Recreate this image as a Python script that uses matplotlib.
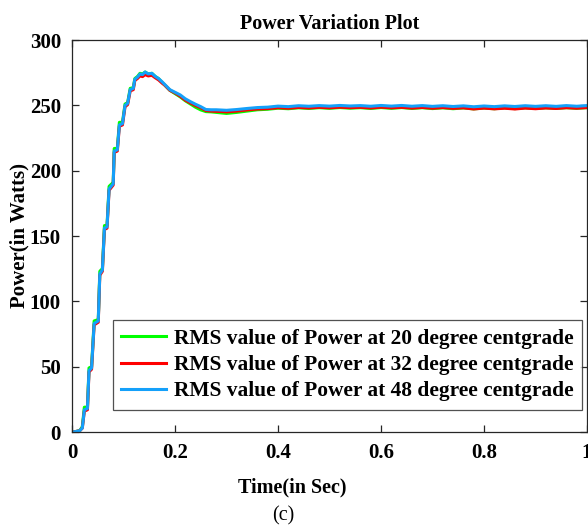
import numpy as np
import matplotlib
import matplotlib.pyplot as plt

matplotlib.use('Agg')

# time base (s) for the start-up transient
t_rise = [0.000, 0.003, 0.015, 0.020, 0.024, 0.030, 0.033, 0.038, 0.043, 0.051,
          0.054, 0.059, 0.063, 0.068, 0.072, 0.080, 0.082, 0.088, 0.092, 0.098,
          0.103, 0.108, 0.113, 0.119, 0.122, 0.127, 0.132, 0.137, 0.142, 0.148,
          0.155, 0.162, 0.168, 0.175, 0.180, 0.190, 0.200, 0.210, 0.220, 0.230,
          0.240, 0.250, 0.260, 0.270, 0.280, 0.290]

# time base (s) for the steady-state part
t_steady = [0.30, 0.32, 0.34, 0.36, 0.38, 0.40, 0.42, 0.44, 0.46, 0.48, 0.50, 0.52,
            0.54, 0.56, 0.58, 0.60, 0.62, 0.64, 0.66, 0.68, 0.70, 0.72, 0.74, 0.76,
            0.78, 0.80, 0.82, 0.84, 0.86, 0.88, 0.90, 0.92, 0.94, 0.96, 0.98, 1.00]

# RMS power (W) at 20 degrees
p20_rise = [0, 0, 1, 4, 19, 19, 49, 50, 85, 86, 123, 125, 158, 158, 188, 191, 217,
            217, 237, 237, 251, 252, 263, 263.5, 270.5, 272, 274.5, 274, 275.5, 274,
            274.5, 272, 270.5, 267.5, 265.5, 261.5, 259, 256.5, 253.5, 251, 248.5,
            246.5, 245.2, 245.0, 244.6, 244.2]
p20_steady = [243.8, 244.6, 245.6, 246.6, 247.0, 247.8, 247.4, 248.1, 247.6, 248.2,
              247.7, 248.3, 247.8, 248.2, 247.6, 248.3, 247.7, 248.3, 247.6, 248.2,
              247.5, 248.1, 247.4, 248.0, 247.3, 247.9, 247.4, 248.0, 247.5, 248.1,
              247.6, 248.1, 247.6, 248.2, 247.7, 248.2]

# RMS power (W) at 32 degrees
p32_rise = [0, 0, 1, 3, 16, 17, 46, 48, 82, 84, 120, 123, 155, 156, 185, 189, 214,
            215, 234, 235, 249, 250.5, 261, 262, 269, 270.5, 272.5, 272, 273.5, 272.5,
            273, 271, 269.5, 267, 265.5, 261.5, 259.5, 257, 254, 251.8, 249.8,
            248.2, 246.0, 245.6, 245.4, 245.3]
p32_steady = [245.0, 245.6, 246.5, 247.2, 247.5, 248.2, 247.8, 248.4, 248.0, 248.5,
              248.1, 248.6, 248.2, 248.5, 248.0, 248.6, 248.1, 248.5, 247.9, 248.4,
              247.8, 248.3, 247.7, 248.1, 247.2, 247.9, 247.3, 247.8, 247.2, 247.9,
              247.4, 248.0, 247.6, 248.2, 247.8, 248.3]

# RMS power (W) at 48 degrees
p48_rise = [0, 0, 1, 3, 17, 18, 47, 49, 83, 85, 121, 124, 156, 157, 186, 190, 215,
            216, 235, 236, 250, 251.5, 262, 263, 270, 271.5, 274, 273.5, 275.5, 274,
            274.5, 272, 270.5, 268, 266, 262, 260, 258, 255, 252.8, 250.8,
            249.0, 246.8, 246.6, 246.6, 246.4]
p48_steady = [246.2, 246.8, 247.6, 248.3, 248.6, 249.4, 249.0, 249.7, 249.3, 249.8,
              249.4, 249.9, 249.5, 249.8, 249.3, 249.9, 249.4, 249.9, 249.3, 249.8,
              249.2, 249.7, 249.1, 249.6, 248.9, 249.5, 249.0, 249.6, 249.1, 249.7,
              249.2, 249.7, 249.2, 249.8, 249.3, 249.8]

labels = ["RMS value of Power at 20 degree centgrade",
          "RMS value of Power at 32 degree centgrade",
          "RMS value of Power at 48 degree centgrade"]
colors = ["#00FF00", "#FF0000", "#14A0FA"]

plt.rcParams['font.family'] = ['Liberation Serif', 'DejaVu Serif']
plt.rcParams['font.weight'] = 'bold'

fig = plt.figure(figsize=(5.88, 5.31), dpi=100)
ax = fig.add_axes([72 / 588, 1 - 432 / 531, 515 / 588, 392 / 531])

t_all = np.array(t_rise + t_steady)
series = [p20_rise + p20_steady, p32_rise + p32_steady, p48_rise + p48_steady]
for vals, col, lab in zip(series, colors, labels):
    ax.plot(t_all, vals, color=col, linewidth=2.2, label=lab)

ax.set_xlim(0, 1)
ax.set_ylim(0, 300)
ax.set_xticks([0, 0.2, 0.4, 0.6, 0.8, 1])
ax.set_xticklabels(["0", "0.2", "0.4", "0.6", "0.8", "1"])
ax.set_yticks(np.arange(0, 301, 50))

for sp in ax.spines.values():
    sp.set_color("#262626")
    sp.set_linewidth(0.9)
ax.tick_params(direction="in", length=5, width=0.9, color="#262626",
               top=True, right=True, labelsize=15, pad=8)

ax.set_title("Power Variation Plot", fontsize=14.5, fontweight="bold", pad=8)
ax.set_xlabel("Time(in Sec)", fontsize=14.5, fontweight="bold")
ax.xaxis.set_label_coords((292 - 72) / 515, -(477 - 432) / 392)
ax.set_ylabel("Power(in Watts)", fontsize=15, fontweight="bold")
ax.yaxis.set_label_coords(-(72 - 29) / 515, 0.5)

leg = ax.legend(loc="lower right", bbox_to_anchor=(0.99, 0.056), fontsize=15.4,
                frameon=True, fancybox=False, handlelength=2.1, handletextpad=0.35,
                borderpad=0.4, labelspacing=0.3, borderaxespad=0)
leg.get_frame().set_edgecolor("#262626")
leg.get_frame().set_linewidth(0.9)

fig.text(283 / 588, 1 - 516 / 531, "(c)", fontsize=14.5, fontweight="normal",
         ha="center", va="center")

fig.savefig("out.png", dpi=100)
